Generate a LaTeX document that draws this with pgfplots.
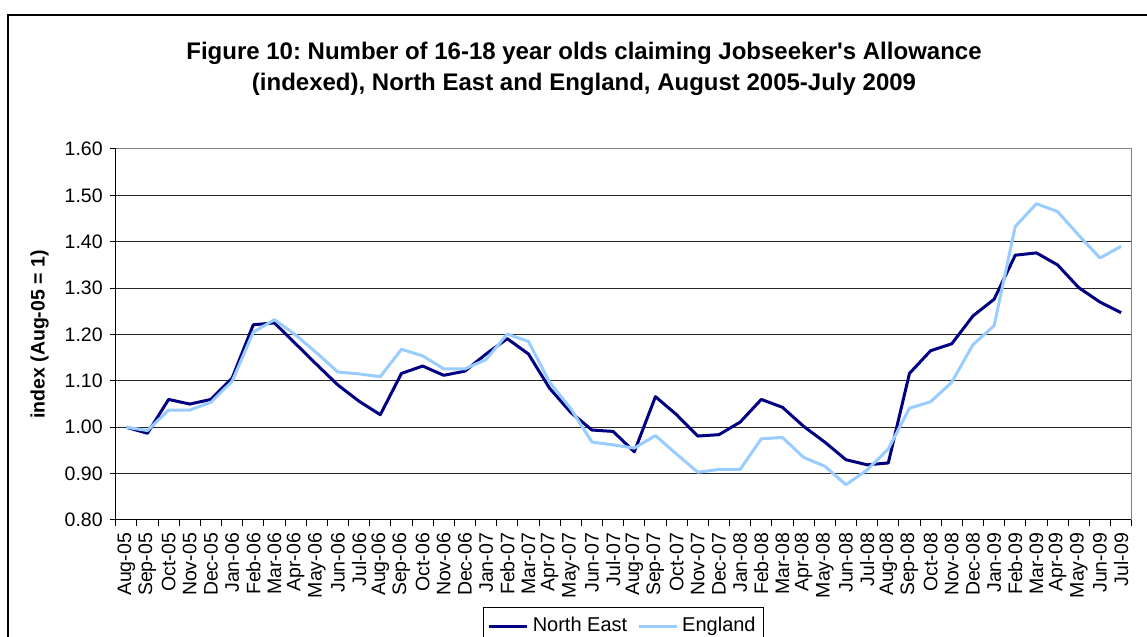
\documentclass[border=0pt]{standalone}
\usepackage{pgfplots}
\pgfplotsset{compat=1.18}
\usepackage{pgfplotstable}
\usepackage{fontspec}
\setmainfont{Liberation Sans}
\frenchspacing
\definecolor{nedark}{HTML}{000080}
\definecolor{englight}{HTML}{99CCFF}
\pgfplotstableread{
x ne eng
0 1.000 1.000
1 0.987 0.993
2 1.060 1.037
3 1.050 1.037
4 1.060 1.054
5 1.106 1.099
6 1.221 1.205
7 1.225 1.232
8 1.180 1.199
9 1.135 1.160
10 1.091 1.119
11 1.056 1.115
12 1.027 1.109
13 1.116 1.168
14 1.132 1.154
15 1.112 1.126
16 1.121 1.126
17 1.158 1.146
18 1.191 1.201
19 1.158 1.185
20 1.084 1.097
21 1.032 1.040
22 0.994 0.968
23 0.991 0.962
24 0.947 0.955
25 1.066 0.982
26 1.027 0.942
27 0.981 0.903
28 0.984 0.909
29 1.011 0.909
30 1.060 0.975
31 1.043 0.978
32 1.002 0.935
33 0.968 0.916
34 0.930 0.876
35 0.919 0.908
36 0.923 0.953
37 1.116 1.041
38 1.165 1.055
39 1.180 1.097
40 1.240 1.178
41 1.276 1.219
42 1.371 1.433
43 1.376 1.482
44 1.350 1.465
45 1.301 1.414
46 1.270 1.365
47 1.247 1.390
}\datatable
\begin{document}
\begin{tikzpicture}[x=0.5pt,y=0.5pt]
\useasboundingbox (0,0) rectangle (1147,637);
\draw[line width=0.75pt,black] (8,-5) -- (8,622) -- (1150,622);
\node[anchor=base,font=\fontsize{12}{14}\selectfont\bfseries] at (584,577.7) {Figure 10: Number of 16-18 year olds claiming Jobseeker\textquotesingle s Allowance};
\node[anchor=base,font=\fontsize{12}{14}\selectfont\bfseries] at (584,546.3) {(indexed), North East and England, August 2005-July 2009};
\begin{axis}[
  at={(57.85pt,58.5pt)}, anchor=south west,
  scale only axis, width=508pt, height=185.5pt,
  xmin=-0.5, xmax=47.5, ymin=0.8, ymax=1.6,
  axis x line*=bottom, axis y line*=left,
  axis line style={black, line width=0.5pt},
  xtick={0,...,47},
  xticklabels={Aug-05,Sep-05,Oct-05,Nov-05,Dec-05,Jan-06,Feb-06,Mar-06,Apr-06,May-06,Jun-06,Jul-06,Aug-06,Sep-06,Oct-06,Nov-06,Dec-06,Jan-07,Feb-07,Mar-07,Apr-07,May-07,Jun-07,Jul-07,Aug-07,Sep-07,Oct-07,Nov-07,Dec-07,Jan-08,Feb-08,Mar-08,Apr-08,May-08,Jun-08,Jul-08,Aug-08,Sep-08,Oct-08,Nov-08,Dec-08,Jan-09,Feb-09,Mar-09,Apr-09,May-09,Jun-09,Jul-09},
  minor xtick={-0.5,0.5,...,47.5},
  every major x tick/.append style={draw=none},
  every minor x tick/.append style={black, line width=0.5pt},
  ytick={0.8,0.9,...,1.61},
  every major y tick/.append style={black, line width=0.5pt},
  tick align=outside, major tick length=3pt, minor tick length=3pt,
  ymajorgrids, grid style={black!85, line width=0.5pt},
  yticklabel style={/pgf/number format/fixed, /pgf/number format/fixed zerofill, /pgf/number format/precision=2, font=\fontsize{9.75}{11}\selectfont},
  /pgf/number format/assume math mode=true,
  xticklabel style={rotate=90, anchor=east, font=\fontsize{9.75}{11}\selectfont},
  ylabel={index (Aug-05 = 1)},
  ylabel style={at={(axis description cs:-0.075,0.5)}, anchor=center, font=\fontsize{9.75}{11}\selectfont\bfseries},
  legend style={at={(0.5,-0.2345)}, anchor=north, legend columns=2, draw=black, line width=0.5pt, font=\fontsize{10}{12}\selectfont, inner ysep=3pt, inner xsep=2pt, /tikz/every even column/.append style={column sep=3pt}},
  legend image code/.code={\draw[#1] (0pt,0pt) -- (19pt,0pt);},
  legend cell align=left,
  clip=false,
]
\draw[gray, line width=0.5pt] (rel axis cs:0,1) -- (rel axis cs:1,1) -- (rel axis cs:1,0);
\addplot[nedark, line width=1.5pt, line join=round] table[x=x,y=ne]{\datatable};
\addlegendentry{North East}
\addplot[englight, line width=1.5pt, line join=round] table[x=x,y=eng]{\datatable};
\addlegendentry{England}
\end{axis}
\end{tikzpicture}
\end{document}
